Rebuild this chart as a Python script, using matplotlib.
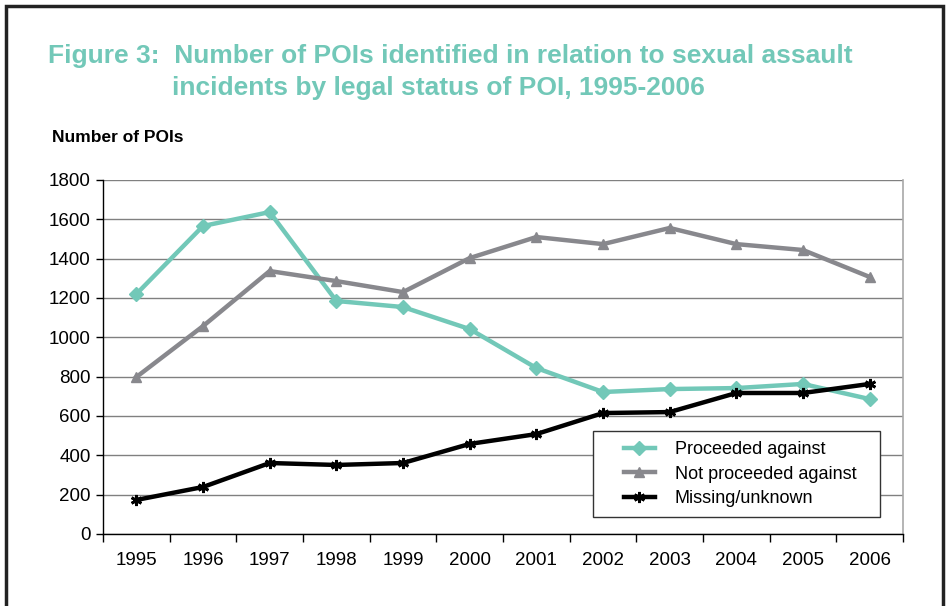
import matplotlib
matplotlib.use("Agg")
import matplotlib.pyplot as plt
from matplotlib.patches import Rectangle

years = ["1995", "1996", "1997", "1998", "1999", "2000",
         "2001", "2002", "2003", "2004", "2005", "2006"]
proceeded = [1220, 1566, 1637, 1185, 1154, 1042, 844, 722, 737, 742, 763, 686]
not_proceeded = [798, 1057, 1337, 1286, 1230, 1403, 1510, 1474, 1556, 1474, 1444, 1307]
missing = [173, 239, 361, 351, 361, 458, 508, 615, 620, 717, 717, 763]

TEAL = "#72c8b8"
GREY = "#88888d"

plt.rcParams["font.family"] = ["Liberation Sans", "DejaVu Sans"]

fig = plt.figure(figsize=(9.49, 6.06), dpi=100)
ax = fig.add_axes([103 / 949, 72 / 606, 800 / 949, 354 / 606])

x = list(range(len(years)))
ax.plot(x, proceeded, color=TEAL, lw=3.2, marker="D", ms=7, mec=TEAL,
        label="Proceeded against", zorder=3)
ax.plot(x, not_proceeded, color=GREY, lw=3.2, marker="^", ms=7, mec=GREY,
        label="Not proceeded against", zorder=3)
ax.plot(x, missing, color="black", lw=3.2, marker=(6, 2, 0), ms=8, mew=2,
        label="Missing/unknown", zorder=4)

ax.set_xlim(-0.5, len(years) - 0.5)
ax.set_ylim(0, 1800)
ax.set_yticks(range(0, 1801, 200))
ax.set_xticks(x)
ax.set_xticklabels(years, fontsize=13.5)
ax.set_xticks([i - 0.5 for i in range(len(years) + 1)], minor=True)
ax.tick_params(axis="x", which="major", length=0, pad=13)
ax.tick_params(axis="x", which="minor", length=6, width=1, direction="out")
ax.tick_params(axis="y", length=5, width=1, labelsize=13.5, pad=4)
ax.grid(axis="y", color="#808080", lw=1)
ax.set_axisbelow(True)

ax.spines["right"].set_color("#a8a8a8")
ax.spines["right"].set_linewidth(1.2)
ax.spines["top"].set_visible(False)
for side in ["left", "bottom"]:
    ax.spines[side].set_color("black")
    ax.spines[side].set_linewidth(1)

# legend drawn without its own frame, the box is a separate patch
leg = ax.legend(loc="upper left",
                bbox_to_anchor=((624 - 103) / 800, (534 - 441) / 354),
                fontsize=13, frameon=False, handlelength=1.7,
                borderpad=0, labelspacing=0.42, handletextpad=1.1,
                borderaxespad=0)
leg.set_zorder(6)
box = Rectangle(((593 - 103) / 800, (534 - 517) / 354), 287 / 800, 86 / 354,
                transform=ax.transAxes, facecolor="white", edgecolor="#333333",
                lw=1, zorder=5)
ax.add_patch(box)

fig.text(48 / 949, 1 - 56 / 606,
         "Figure 3:  Number of POIs identified in relation to sexual assault",
         color=TEAL, fontsize=19, fontweight="bold", va="center")
fig.text(172 / 949, 1 - 88 / 606,
         "incidents by legal status of POI, 1995-2006",
         color=TEAL, fontsize=19, fontweight="bold", va="center")
fig.text(52 / 949, 1 - 138 / 606, "Number of POIs",
         fontsize=12.5, fontweight="bold", va="center")

# outer frame of the page box
fig.patches.append(Rectangle((6 / 949, -0.1), 937 / 949, 1.1 - 6 / 606,
                             transform=fig.transFigure, fill=False,
                             edgecolor="#222222", lw=2.5))

fig.savefig("out.png", dpi=100)
